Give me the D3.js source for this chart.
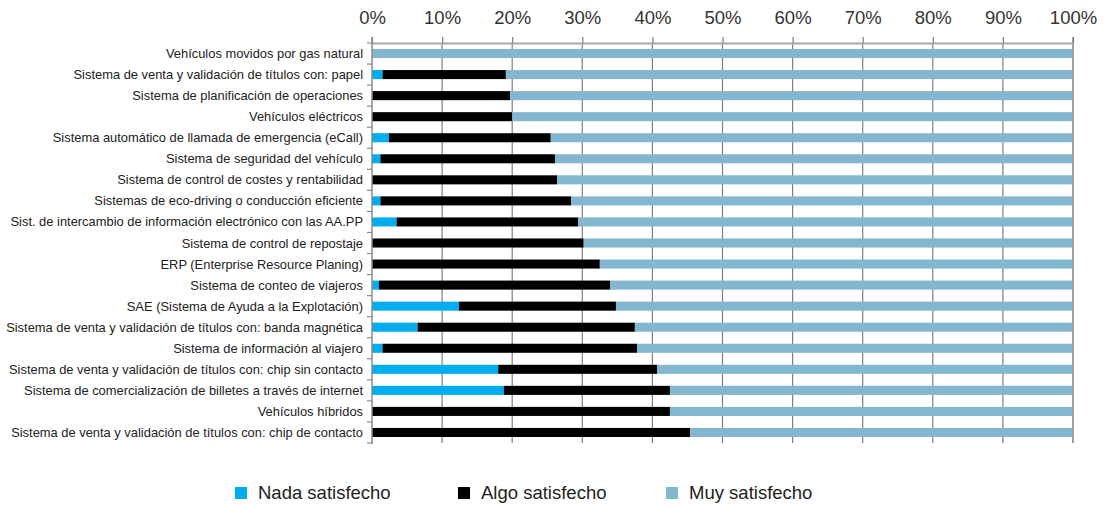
<!DOCTYPE html>
<html>
<head>
<meta charset="utf-8">
<script src="https://cdn.jsdelivr.net/npm/d3@7"></script>
<style>
  html, body { margin: 0; padding: 0; background: #fff; }
  svg { display: block; font-family: "Liberation Sans", Arial, Helvetica, sans-serif; }
</style>
</head>
<body>
<svg id="chart" width="1109" height="505"></svg>
<script>
// Satisfaction with each technology (percent of respondents), top to bottom
const categories = [
  "Vehículos movidos por gas natural",
  "Sistema de venta y validación de títulos con: papel",
  "Sistema de planificación de operaciones",
  "Vehículos eléctricos",
  "Sistema automático de llamada de emergencia (eCall)",
  "Sistema de seguridad del vehículo",
  "Sistema de control de costes y rentabilidad",
  "Sistemas de eco-driving o conducción eficiente",
  "Sist. de intercambio de información electrónico con las AA.PP",
  "Sistema de control de repostaje",
  "ERP (Enterprise Resource Planing)",
  "Sistema de conteo de viajeros",
  "SAE (Sistema de Ayuda a la Explotación)",
  "Sistema de venta y validación de títulos con: banda magnética",
  "Sistema de información al viajero",
  "Sistema de venta y validación de títulos con: chip sin contacto",
  "Sistema de comercialización de billetes a través de internet",
  "Vehículos híbridos",
  "Sistema de venta y validación de títulos con: chip de contacto"
];
const nada = [0, 1.5, 0, 0, 2.4, 1.2, 0, 1.2, 3.5, 0, 0, 1.0, 12.4, 6.5, 1.5, 18.0, 18.8, 0, 0];
const algo = [0, 17.6, 19.7, 20.0, 23.1, 24.9, 26.4, 27.2, 25.9, 30.2, 32.5, 33.0, 22.4, 31.0, 36.3, 22.7, 23.7, 42.5, 45.4];
const muy  = [100, 80.9, 80.3, 80.0, 74.5, 73.9, 73.6, 71.6, 70.6, 69.8, 67.5, 66.0, 65.2, 62.5, 62.2, 59.3, 57.5, 57.5, 54.6];
const seriesNames = ["Nada satisfecho", "Algo satisfecho", "Muy satisfecho"];
const tickValues = [0, 10, 20, 30, 40, 50, 60, 70, 80, 90, 100];
const colors = ["#00aeef", "#000000", "#83b6cf"];

const svg = d3.select("#chart");
const margin = { left: 372, right: 36, top: 43, bottom: 62 };
const W = 1109, H = 505;

const rows = categories.map((c, i) => ({ cat: c, "Nada satisfecho": nada[i], "Algo satisfecho": algo[i], "Muy satisfecho": muy[i] }));
const stacked = d3.stack().keys(seriesNames)(rows);

const x = d3.scaleLinear().domain([0, 100]).range([margin.left, W - margin.right]);
const y = d3.scaleBand().domain(categories).range([margin.top, H - margin.bottom]).paddingInner(0.57).paddingOuter(0.285);
const color = d3.scaleOrdinal().domain(seriesNames).range(colors);

const plotTop = margin.top, plotBottom = H - margin.bottom;

// vertical gridlines
svg.append("g").selectAll("line").data(tickValues.slice(1, -1)).join("line")
  .attr("x1", d => x(d)).attr("x2", d => x(d))
  .attr("y1", plotTop).attr("y2", plotBottom)
  .attr("stroke", "#7f7f7f").attr("stroke-width", 1.2);

// stacked bars
svg.append("g").selectAll("g").data(stacked).join("g")
  .attr("fill", d => color(d.key))
  .selectAll("rect").data(d => d).join("rect")
  .attr("x", d => x(d[0]))
  .attr("width", d => Math.max(0, x(d[1]) - x(d[0])))
  .attr("y", d => y(d.data.cat))
  .attr("height", y.bandwidth());

// right border at 100%
svg.append("line")
  .attr("x1", x(100)).attr("x2", x(100))
  .attr("y1", plotTop - 6).attr("y2", plotBottom)
  .attr("stroke", "#a0a0a0").attr("stroke-width", 2);

// top percentage axis
const xAxis = svg.append("g").attr("transform", `translate(0,${plotTop})`)
  .call(d3.axisTop(x).tickValues(tickValues).tickFormat(d => d + "%").tickSize(6).tickPadding(13).tickSizeOuter(0));
xAxis.select(".domain").attr("stroke", "#a8a8a8").attr("stroke-width", 2);
xAxis.selectAll(".tick line").attr("stroke", "#7f7f7f").attr("stroke-width", 1.2);
xAxis.selectAll(".tick text").attr("fill", "#333").attr("font-size", "18.5px")
  .attr("font-family", "'Liberation Sans', Arial, Helvetica, sans-serif");

// left category axis: line with ticks on band boundaries
const step = y.step();
const boundaries = d3.range(categories.length + 1).map(i => plotTop + i * step);
const left = svg.append("g");
left.append("line")
  .attr("x1", x(0)).attr("x2", x(0))
  .attr("y1", plotTop - 6).attr("y2", plotBottom + 1)
  .attr("stroke", "#8a8a8a").attr("stroke-width", 1.5);
left.selectAll("line.b").data(boundaries).join("line").attr("class", "b")
  .attr("x1", x(0) - 5).attr("x2", x(0))
  .attr("y1", d => d).attr("y2", d => d)
  .attr("stroke", "#8a8a8a").attr("stroke-width", 1.2);
left.selectAll("text").data(categories).join("text")
  .attr("x", x(0) - 9)
  .attr("y", d => y(d) + y.bandwidth() / 2)
  .attr("dy", "0.35em")
  .attr("text-anchor", "end")
  .attr("font-size", "12.9px")
  .attr("fill", "#222")
  .text(d => d);

// legend
const legendX = [235, 458, 666];
const lg = svg.append("g").selectAll("g").data(seriesNames).join("g")
  .attr("transform", (d, i) => `translate(${legendX[i]},487)`);
lg.append("rect").attr("width", 12).attr("height", 12).attr("fill", d => color(d));
lg.append("text").attr("x", 23).attr("y", 6).attr("dy", "0.35em")
  .attr("font-size", "18.5px").attr("fill", "#222").text(d => d);
</script>
</body>
</html>
